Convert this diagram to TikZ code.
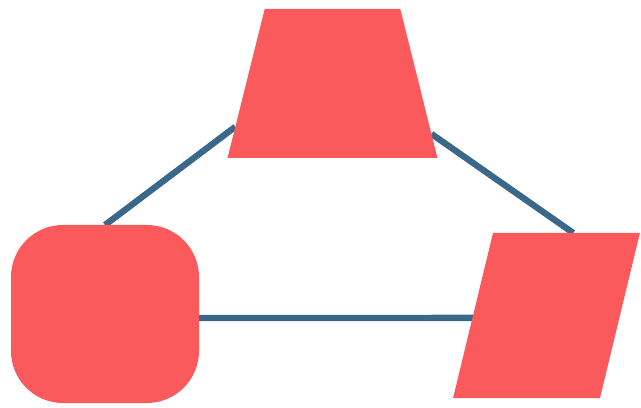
\documentclass[tikz,border=0pt]{standalone}
\usepackage{tikz}
\usetikzlibrary{shapes.geometric, backgrounds}
\usepackage{xcolor}
\definecolor{coral}{RGB}{250, 90, 92}
\definecolor{azulaco}{RGB}{58, 104, 137}

% caixa invisivel que fixa o corpo de cada forma
\newcommand{\corpo}[2]{\rule{#1}{0pt}\rule{0pt}{#2}}

\begin{document}
\begin{tikzpicture}[
    forma/.style={
        fill=coral,
        draw=none,
        inner sep=0pt,
        outer sep=0pt
    },
    trapezio/.style={
        forma,
        trapezium,
        trapezium left angle=76,
        trapezium right angle=76
    },
    paralelo/.style={
        forma,
        trapezium,
        trapezium left angle=76.4,
        trapezium right angle=103.6
    },
    quadrado/.style={
        forma,
        rectangle,
        rounded corners=1.3cm,
        minimum width=4.7cm,
        minimum height=4.45cm
    },
    ligacao/.style={
        draw=azulaco,
        line width=4.5pt
    }
]

\useasboundingbox (0,0) rectangle (16.025,-10.2);

\node[trapezio] (topo) at (8.3125,-2.0875) {\corpo{3.39cm}{3.725cm}};
\node[quadrado] (esq) at (2.625,-7.85) {};
\node[paralelo] (dir) at (13.6625,-7.8875) {\corpo{2.675cm}{4.125cm}};

\begin{scope}[on background layer]
\draw[ligacao] (esq.north) -- (topo.204);
\draw[ligacao] (topo.333) -- (dir.72);
\draw[ligacao] ([yshift=-0.1cm]esq.east) -- ([yshift=-0.06cm]dir.west);
\end{scope}

\end{tikzpicture}
\end{document}
